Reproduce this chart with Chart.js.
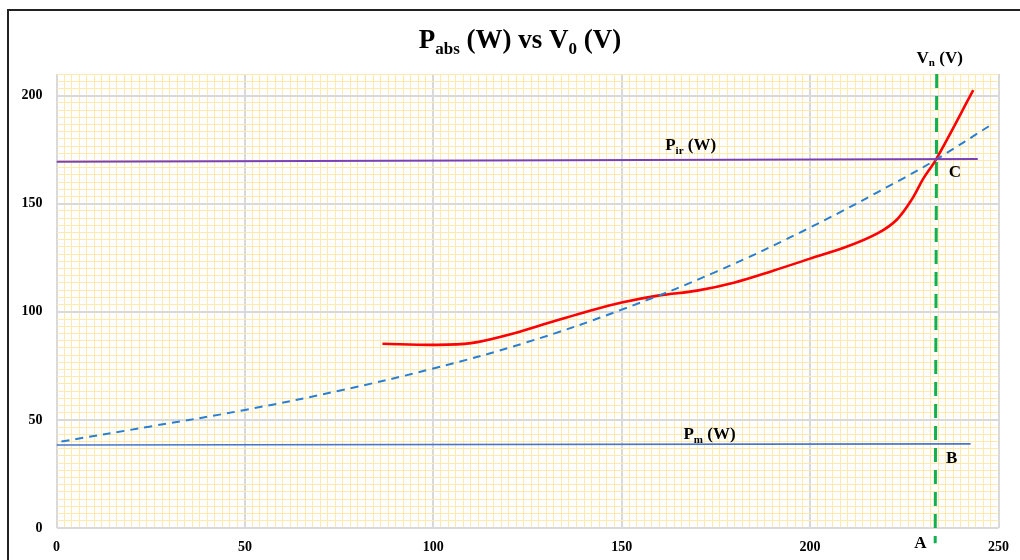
<!DOCTYPE html>
<html>
<head>
<meta charset="utf-8">
<script src="https://cdn.jsdelivr.net/npm/chart.js@4"></script>
<style>
  html, body { margin: 0; padding: 0; background: #fff; }
  #wrap { width: 1020px; height: 560px; position: relative; }
</style>
</head>
<body>
<div id="wrap"><canvas id="chart" width="1020" height="560"></canvas></div>
<script>
// measured absorbed power curve (red)
var pabsV = [86.5, 100, 110, 120, 130, 140, 150, 160, 170, 180, 190, 200, 210, 218, 223, 227, 230, 233.4, 243.3];
var pabsW = [85.2, 84.7, 85.5, 89.4, 94.6, 99.7, 104.3, 107.6, 109.8, 113.6, 118.9, 124.6, 130.3, 136.4, 142.6, 152.0, 161.5, 170.4, 202.5];
// dashed trend (blue)
var trendV = [1.3, 25, 50, 75, 100, 125, 150, 175, 200, 225, 233.4, 248.5];
var trendW = [40.0, 47, 54.6, 63.5, 73.8, 86, 101, 118.5, 139, 162, 170.4, 187];
// horizontal references
var pirV = [0, 244.5];
var pirW = [169.4, 170.7];
var pmV = [0, 242.6];
var pmW = [38.4, 38.9];
// nominal voltage marker
var vnV = [233.6, 233.2];
var vnW = [210, -7];
// axis ticks
var xTicks = [0, 50, 100, 150, 200, 250];
var yTicks = [0, 50, 100, 150, 200];
// text annotations: [segments, x, y(baseline)]
var notes = [
  [[['V', 0], ['n', 1], [' (V)', 0]], 234.4, 215.3],
  [[['P', 0], ['ir', 1], [' (W)', 0]], 168.3, 174.7],
  [[['C', 0]], 238.4, 162.4],
  [[['P', 0], ['m', 1], [' (W)', 0]], 173.3, 41.2],
  [[['B', 0]], 237.6, 30.0],
  [[['A', 0]], 229.3, -9.4]
];

function pts(xs, ys) {
  return xs.map(function(v, i){ return { x: v, y: ys[i] }; });
}
function isMajor(v) {
  return Math.abs(v / 50 - Math.round(v / 50)) < 1e-6;
}
var SERIF = "'Liberation Serif', 'Times New Roman', serif";

function drawRich(ctx, segs, cx, baseY, size) {
  var subSize = Math.round(size * 0.62);
  var w = 0;
  segs.forEach(function(s){
    ctx.font = 'bold ' + (s[1] ? subSize : size) + 'px ' + SERIF;
    w += ctx.measureText(s[0]).width;
  });
  var x = cx - w / 2;
  ctx.textAlign = 'left';
  ctx.textBaseline = 'alphabetic';
  ctx.fillStyle = '#000';
  segs.forEach(function(s){
    ctx.font = 'bold ' + (s[1] ? subSize : size) + 'px ' + SERIF;
    ctx.fillText(s[0], x, baseY + (s[1] ? size * 0.22 : 0));
    x += ctx.measureText(s[0]).width;
  });
}

var framePlugin = {
  id: 'frame',
  beforeDraw: function(chart) {
    var ctx = chart.ctx;
    ctx.save();
    ctx.fillStyle = '#fff';
    ctx.fillRect(0, 0, chart.width, chart.height);
    ctx.strokeStyle = '#222';
    ctx.lineWidth = 2;
    ctx.beginPath();
    ctx.moveTo(8, chart.height);
    ctx.lineTo(8, 10);
    ctx.lineTo(chart.width, 10);
    ctx.stroke();
    ctx.restore();
  }
};

var textPlugin = {
  id: 'notes',
  afterDraw: function(chart) {
    var ctx = chart.ctx;
    var xs = chart.scales.x, ys = chart.scales.y;
    ctx.save();
    drawRich(ctx, [['P', 0], ['abs', 1], [' (W) vs V', 0], ['0', 1], [' (V)', 0]], 520, 48, 27);
    notes.forEach(function(n){
      drawRich(ctx, n[0], xs.getPixelForValue(n[1]), ys.getPixelForValue(n[2]), 17);
    });
    ctx.restore();
  }
};

new Chart(document.getElementById('chart'), {
  type: 'scatter',
  data: {
    datasets: [
      { data: pts(pirV, pirW), showLine: true, borderColor: '#7a40b8', borderWidth: 2, pointRadius: 0 },
      { data: pts(pmV, pmW), showLine: true, borderColor: '#4a76c9', borderWidth: 1.6, pointRadius: 0 },
      { data: pts(trendV, trendW), showLine: true, borderColor: '#2a7fd0', borderWidth: 2, borderDash: [8, 6], tension: 0.4, pointRadius: 0 },
      { data: pts(pabsV, pabsW), showLine: true, borderColor: '#ff0000', borderWidth: 2.6, tension: 0.35, pointRadius: 0 },
      { data: pts(vnV, vnW), showLine: true, borderColor: '#12b04f', borderWidth: 3, borderDash: [14, 8], pointRadius: 0, clip: false }
    ]
  },
  options: {
    responsive: false,
    animation: false,
    layout: { padding: { top: 74, right: 20, left: 0, bottom: 0 } },
    plugins: { legend: { display: false }, tooltip: { enabled: false } },
    scales: {
      x: {
        type: 'linear', min: 0, max: 250,
        border: { display: false },
        afterFit: function(s){ s.height = 32; },
        ticks: {
          stepSize: 2, autoSkip: false, maxRotation: 0, padding: 11,
          color: '#000', font: { family: SERIF, size: 14, weight: 'bold' },
          callback: function(v){ return xTicks.indexOf(v) >= 0 ? v : ''; }
        },
        grid: {
          drawTicks: false,
          color: function(c){ return isMajor(c.tick.value) ? '#d9d9d9' : '#ffe9ab'; },
          lineWidth: function(c){ return isMajor(c.tick.value) ? 2 : 1; }
        }
      },
      y: {
        type: 'linear', min: 0, max: 210,
        border: { display: false },
        afterFit: function(s){ s.width = 56.5; },
        ticks: {
          stepSize: 10 / 3, autoSkip: false, padding: 14,
          color: '#000', font: { family: SERIF, size: 14, weight: 'bold' },
          callback: function(v){
            var r = Math.round(v);
            return (isMajor(v) && yTicks.indexOf(r) >= 0) ? r : '';
          }
        },
        grid: {
          drawTicks: false,
          color: function(c){ return isMajor(c.tick.value) ? '#d9d9d9' : '#ffe9ab'; },
          lineWidth: function(c){ return isMajor(c.tick.value) ? 2 : 1; }
        }
      }
    }
  },
  plugins: [framePlugin, textPlugin]
});
</script>
</body>
</html>
